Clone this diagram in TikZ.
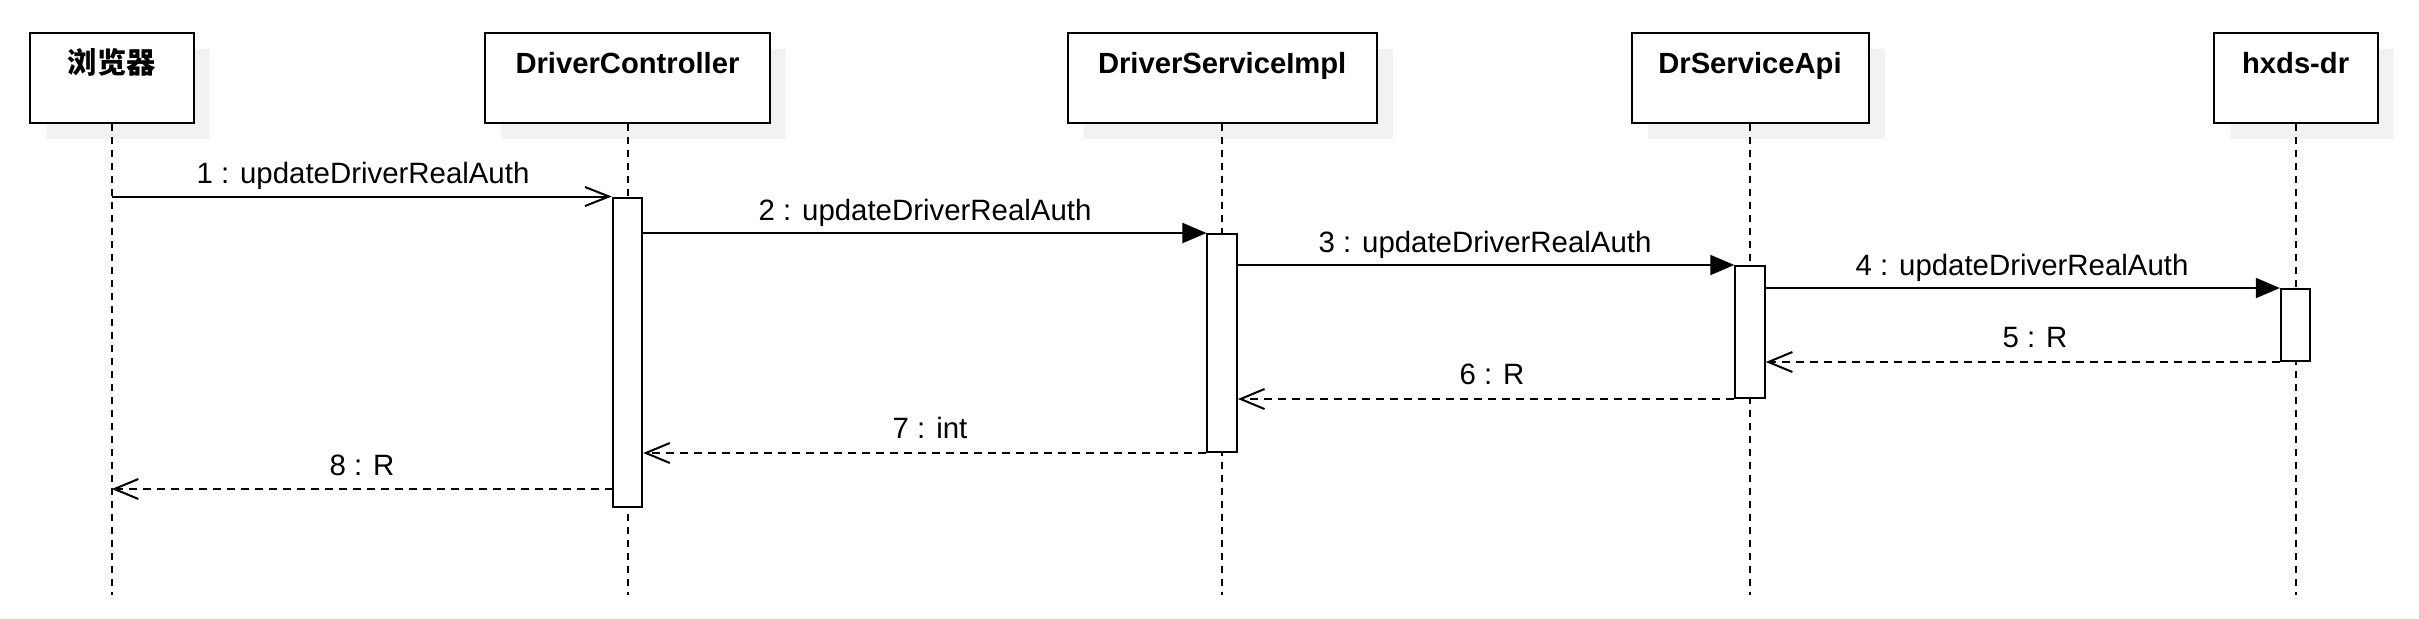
\documentclass[tikz,border=0pt]{standalone}
\usepackage{fontspec}
\setmainfont{Liberation Sans}
\newfontfamily\cjk{Noto Sans CJK SC}
\usetikzlibrary{arrows.meta,shadows}
\begin{document}
\begin{tikzpicture}[x=0.5pt,y=-0.5pt,
  head/.style={draw, line width=1pt, fill=white, minimum height=44.7pt, inner sep=0pt,
    general shadow={fill=black!5, shadow xshift=8pt, shadow yshift=-8pt}},
  htext/.style={anchor=base, font=\bfseries\fontsize{14.6}{17}\selectfont},
  life/.style={line width=1pt, dash pattern=on 3.5pt off 3pt},
  act/.style={draw, line width=1pt, fill=white, minimum width=14.75pt, inner sep=0pt},
  msg/.style={line width=1pt},
  sync/.style={msg, -{Triangle[length=12pt,width=10pt]}},
  call/.style={msg, -{Straight Barb[length=12pt,width=9.5pt]}},
  ret/.style={msg, dash pattern=on 4pt off 3pt, -{Straight Barb[length=12pt,width=10pt]}},
  lbl/.style={anchor=base, font=\fontsize{14.7}{17}\selectfont}
]
\useasboundingbox (0,0) rectangle (2419,618);

% heads
\node[head, minimum width=82.15pt] (b1) at (111.75,78) {};
\node[head, minimum width=142.85pt] (b2) at (627.5,78) {};
\node[head, minimum width=154.3pt] (b3) at (1222.2,78) {};
\node[head, minimum width=118.5pt] (b4) at (1750,78) {};
\node[head, minimum width=81.9pt] (b5) at (2295.6,78) {};

\node[htext] (t1) at (111.75,73.3) {\cjk\bfseries 浏览器};
\node[htext] (t2) at (627.5,73.3) {DriverController};
\node[htext] (t3) at (1222.2,73.3) {DriverServiceImpl};
\node[htext] (t4) at (1750,73.3) {DrServiceApi};
\node[htext] (t5) at (2295.6,73.3) {hxds-dr};

% lifelines
\coordinate (e1) at (111.75,595);
\coordinate (e2) at (627.5,595);
\coordinate (e3) at (1222.2,595);
\coordinate (e4) at (1750,595);
\coordinate (e5) at (2295.6,595);
\draw[life] (b1.south) -- (e1);
\draw[life] (b2.south) -- (e2);
\draw[life] (b3.south) -- (e3);
\draw[life] (b4.south) -- (e4);
\draw[life] (b5.south) -- (e5);

% activations
\node[act, minimum height=154.75pt] (a2) at (627.5,352.25) {};
\node[act, minimum height=109pt] (a3) at (1222.2,343) {};
\node[act, minimum height=66pt] (a4) at (1750,332) {};
\node[act, minimum height=36pt] (a5) at (2295.6,325) {};

% messages
\draw[call] (a2.north west -| b1) -- (a2.north west);
\draw[sync] (a2.east |- a3.north) -- (a3.north west);
\draw[sync] (a3.east |- a4.north) -- (a4.north west);
\draw[sync] (a4.east |- a5.north) -- (a5.north west);
\draw[ret] (a5.south west) -- (a5.south west -| a4.east);
\draw[ret] (a4.south west) -- (a4.south west -| a3.east);
\draw[ret] (a3.south west) -- (a3.south west -| a2.east);
\coordinate (m8) at (612.5,489);
\draw[ret] (m8) -- (m8 -| b1);

% labels
\node[lbl] (l1) at (363,183.3) {1 : updateDriverRealAuth};
\node[lbl] (l2) at (925,220) {2 : updateDriverRealAuth};
\node[lbl] (l3) at (1485,252) {3 : updateDriverRealAuth};
\node[lbl] (l4) at (2022,275) {4 : updateDriverRealAuth};
\node[lbl] (l5) at (2035,347) {5 : R};
\node[lbl] (l6) at (1492,384) {6 : R};
\node[lbl] (l7) at (930,438) {7 : int};
\node[lbl] (l8) at (362,475) {8 : R};
\end{tikzpicture}
\end{document}
